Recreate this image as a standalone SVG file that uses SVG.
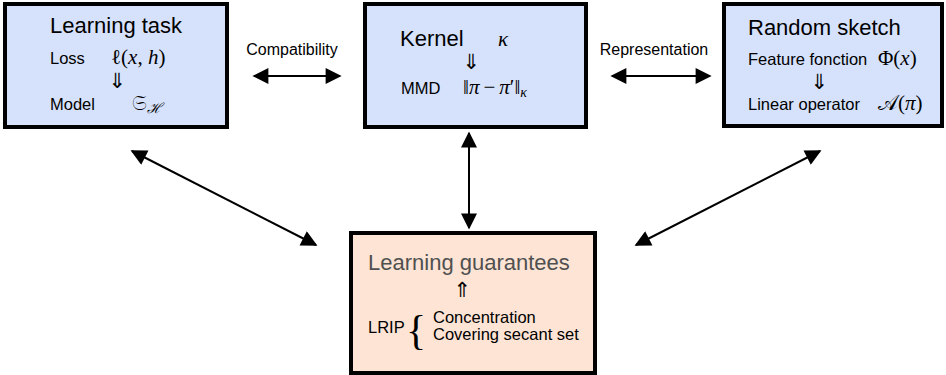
<svg xmlns="http://www.w3.org/2000/svg" width="946" height="375" viewBox="0 0 946 375">
<style>
.box{stroke:#000;stroke-width:4}
.blue{fill:#d6e2fb}
.peach{fill:#fde4d5}
.t{font-family:"Liberation Sans",Arial,sans-serif;fill:#000}
.big{font-size:22px}
.sm{font-size:16.5px}
.lab{font-size:16px}
.m{font-family:"Liberation Serif","DejaVu Serif",serif;font-size:21px;fill:#000}
.i{font-style:italic}
.ar{font-family:"DejaVu Sans",sans-serif;font-size:21px;fill:#000}
.c{stroke:#000;stroke-width:2;fill:none;marker-start:url(#h);marker-end:url(#h)}
</style>
<defs>
<marker id="h" viewBox="0 0 10 10" refX="9" refY="5" markerWidth="9" markerHeight="8" markerUnits="strokeWidth" orient="auto-start-reverse">
<path d="M0,0 L10,5 L0,10 Z" fill="#000"/>
</marker>
</defs>
<g id="connectors">
<line class="c" x1="254" y1="76" x2="340" y2="76"/>
<line class="c" x1="612" y1="76" x2="710" y2="76"/>
<line class="c" x1="469" y1="133" x2="469" y2="228"/>
<line class="c" x1="132" y1="151" x2="316" y2="245"/>
<line class="c" x1="820" y1="151" x2="636" y2="245"/>
<text class="t lab" x="292" y="55" text-anchor="middle">Compatibility</text>
<text class="t lab" x="654" y="55" text-anchor="middle">Representation</text>
</g>
<g id="learning-task">
<rect class="box blue" x="5" y="4" width="222" height="123"/>
<text class="t big" x="50" y="33">Learning task</text>
<text class="t sm" x="50" y="64">Loss</text>
<text class="m" x="111" y="64"><tspan>ℓ(</tspan><tspan class="i">x</tspan><tspan>, </tspan><tspan class="i">h</tspan><tspan>)</tspan></text>
<text class="ar" x="117" y="88" text-anchor="middle">⇓</text>
<text class="t sm" x="50" y="110">Model</text>
<text class="m" x="132" y="110">𝔖<tspan font-size="14" dy="3" class="i">ℋ</tspan></text>
</g>
<g id="kernel">
<rect class="box blue" x="365" y="4" width="221" height="123"/>
<text class="t big" x="400" y="46">Kernel</text>
<text class="m i" x="498" y="46">κ</text>
<text class="ar" x="471" y="69" text-anchor="middle">⇓</text>
<text class="t sm" x="401" y="94">MMD</text>
<text class="m" x="463" y="94">‖<tspan class="i">π</tspan><tspan dx="4">−</tspan><tspan class="i" dx="4">π</tspan>′‖<tspan class="i" font-size="14" dy="3">κ</tspan></text>
</g>
<g id="random-sketch">
<rect class="box blue" x="724" y="4" width="218" height="122"/>
<text class="t big" x="748" y="35">Random sketch</text>
<text class="t sm" x="748" y="65">Feature fonction</text>
<text class="m" x="878" y="65">Φ(<tspan class="i">x</tspan>)</text>
<text class="ar" x="819" y="89" text-anchor="middle">⇓</text>
<text class="t sm" x="748" y="110">Linear operator</text>
<text class="m" x="878" y="110">𝒜(<tspan class="i">π</tspan>)</text>
</g>
<g id="learning-guarantees">
<rect class="box peach" x="351" y="233" width="244" height="140"/>
<text class="t big" x="368" y="270" style="fill:#505050">Learning guarantees</text>
<text class="ar" x="462" y="297" text-anchor="middle">⇑</text>
<text class="t sm" x="368" y="333">LRIP</text>
<text x="406" y="344" font-family="'Liberation Serif',serif" font-size="42" fill="#000">{</text>
<text class="t sm" x="433" y="323">Concentration</text>
<text class="t sm" x="433" y="340">Covering secant set</text>
</g>
</svg>
